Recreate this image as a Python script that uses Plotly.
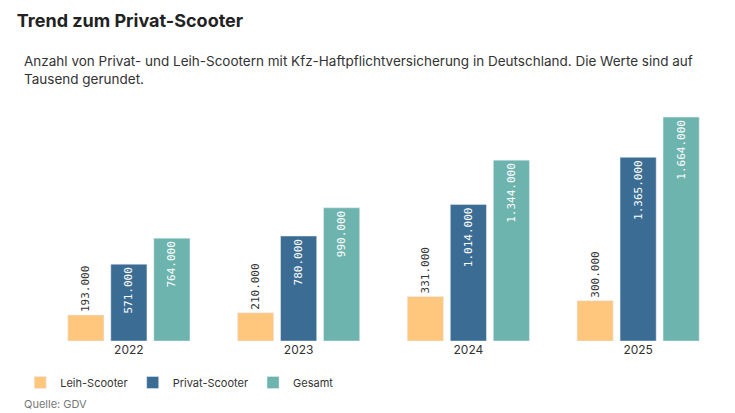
import plotly.graph_objects as go

years = ["2022", "2023", "2024", "2025"]
leih = [193000, 210000, 331000, 300000]
privat = [571000, 780000, 1014000, 1365000]
gesamt = [764000, 990000, 1344000, 1664000]

def fmt(v):
    return f"{v:,}".replace(",", ".")

fig = go.Figure()
series = [
    ("Leih-Scooter", leih, "#FFC67E", "outside", "#333333"),
    ("Privat-Scooter", privat, "#3B6C93", "inside", "white"),
    ("Gesamt", gesamt, "#6DB3AE", "inside", "white"),
]
for name, vals, color, pos, tcol in series:
    fig.add_trace(go.Bar(
        x=years, y=vals, name=name, marker_color=color,
        text=[fmt(v) for v in vals], textposition=pos, textangle=-90,
        insidetextanchor="end", cliponaxis=False,
        textfont=dict(color=tcol, size=11, family="DejaVu Sans Mono"),
        hoverinfo="skip",
    ))

fig.update_layout(
    width=735, height=413,
    font=dict(family="Inter, Roboto, sans-serif", color="#333333"),
    paper_bgcolor="white", plot_bgcolor="white",
    barmode="group", bargap=0.24, bargroupgap=0.16,
    uniformtext=dict(minsize=10, mode="show"),
    margin=dict(l=30, r=20, t=108, b=80),
    title=dict(text="<b>Trend zum Privat-Scooter</b>", x=0.012, xanchor="left",
               yref="container", y=0.985, yanchor="top",
               font=dict(size=18, color="#222222")),
    xaxis=dict(showgrid=False, showline=False, tickfont=dict(size=12)),
    yaxis=dict(visible=False, range=[0, 1664000 * 1.005]),
    legend=dict(orientation="h", x=-0.035, y=-0.12, xanchor="left", yanchor="top",
                font=dict(size=11), itemwidth=30),
    annotations=[
        dict(text="Anzahl von Privat- und Leih-Scootern mit Kfz-Haftpflichtversicherung in Deutschland. Die Werte sind auf<br>Tausend gerundet.",
             xref="paper", yref="paper", x=-0.033, y=1.29, xanchor="left", yanchor="top",
             align="left", showarrow=False, font=dict(size=13.5, color="#333333")),
        dict(text="Quelle: GDV", xref="paper", yref="paper", x=-0.033, y=-0.24,
             xanchor="left", yanchor="top", showarrow=False,
             font=dict(size=11, color="#777777")),
    ],
)

fig.write_html("out.html")
